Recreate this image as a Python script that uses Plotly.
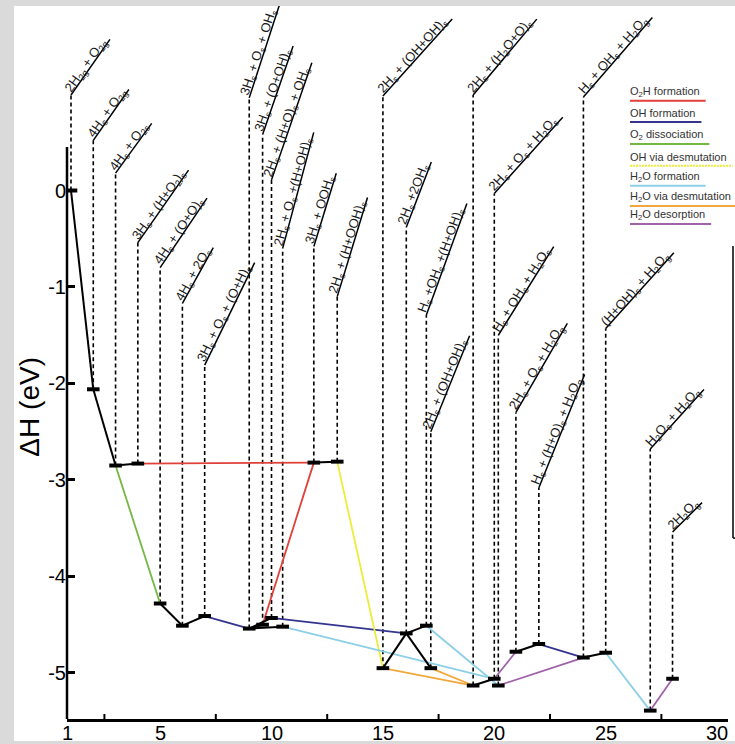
import math
import re
import plotly.graph_objects as go

# ---------------- data ----------------
states = [
    "2H<sub>2g</sub> + O<sub>2g</sub>",
    "4H<sub>s</sub> + O<sub>2g</sub>",
    "4H<sub>s</sub> + O<sub>2s</sub>",
    "3H<sub>s</sub> + (H+O<sub>2</sub>)<sub>s</sub>",
    "4H<sub>s</sub> + (O+O)<sub>s</sub>",
    "4H<sub>s</sub> + 2O<sub>s</sub>",
    "3H<sub>s</sub> + O<sub>s</sub> + (O+H)<sub>s</sub>",
    "3H<sub>s</sub> + O<sub>s</sub> + OH<sub>s</sub>",
    "3H<sub>s</sub> + (O+OH)<sub>s</sub>",
    "2H<sub>s</sub> + (H+O)<sub>s</sub> + OH<sub>s</sub>",
    "2H<sub>s</sub> + O<sub>s</sub> +(H+OH)<sub>s</sub>",
    "3H<sub>s</sub> + OOH<sub>s</sub>",
    "2H<sub>s</sub> + (H+OOH)<sub>s</sub>",
    "2H<sub>s</sub> + (OH+OH)<sub>s</sub>",
    "2H<sub>s</sub> +2OH<sub>s</sub>",
    "H<sub>s</sub> +OH<sub>s</sub> +(H+OH)<sub>s</sub>",
    "2H<sub>s</sub> + (OH+OH)<sub>s</sub>",
    "2H<sub>s</sub> + (H<sub>2</sub>O+O)<sub>s</sub>",
    "2H<sub>s</sub> + O<sub>s</sub> + H<sub>2</sub>O<sub>s</sub>",
    "H<sub>s</sub> + OH<sub>s</sub> + H<sub>2</sub>O<sub>s</sub>",
    "2H<sub>s</sub> + O<sub>s</sub> + H<sub>2</sub>O<sub>g</sub>",
    "H<sub>s</sub> + (H+O)<sub>s</sub> + H<sub>2</sub>O<sub>g</sub>",
    "H<sub>s</sub> + OH<sub>s</sub> + H<sub>2</sub>O<sub>g</sub>",
    "(H+OH)<sub>s</sub> + H<sub>2</sub>O<sub>g</sub>",
    "H<sub>2</sub>O<sub>s</sub> + H<sub>2</sub>O<sub>g</sub>",
    "2H<sub>2</sub>O<sub>g</sub>",
]
step = [1, 2, 3, 4, 5, 6, 7, 9.0, 9.6, 10.0, 10.5, 11.9, 12.95,
        15.0, 16.05, 16.95, 17.15, 19.05, 20.0, 20.18, 20.97, 22.0,
        24.0, 25.0, 27.0, 28.0]
dH = [0.0, -2.06, -2.85, -2.83, -4.28, -4.51, -4.41, -4.54, -4.50, -4.43,
      -4.52, -2.82, -2.81, -4.95, -4.59, -4.51, -4.95, -5.13, -5.06, -5.13,
      -4.78, -4.70, -4.84, -4.79, -5.39, -5.06]

# transitions (1-based state numbers) grouped by mechanism
mechanisms = ["O<sub>2</sub>H formation", "OH formation", "O<sub>2</sub> dissociation",
              "OH via desmutation", "H<sub>2</sub>O formation",
              "H<sub>2</sub>O via desmutation", "H<sub>2</sub>O desorption"]
steps_black = [(1, 2), (2, 3), (3, 4), (5, 6), (6, 7), (8, 9), (8, 10), (8, 11),
               (12, 13), (14, 15), (15, 16), (15, 17), (18, 19), (21, 22), (23, 24)]
steps_mech = {
    "O<sub>2</sub>H formation": [(4, 12), (12, 9)],
    "OH formation": [(7, 8), (10, 15), (22, 23)],
    "O<sub>2</sub> dissociation": [(3, 5)],
    "OH via desmutation": [(13, 14)],
    "H<sub>2</sub>O formation": [(11, 19), (16, 20), (24, 25)],
    "H<sub>2</sub>O via desmutation": [(14, 18), (17, 18)],
    "H<sub>2</sub>O desorption": [(19, 21), (20, 23), (25, 26)],
}

# label placement (height where each state's label starts, and its slant)
label_top = [0.99, 0.52, 0.18, -0.54, -0.80, -1.17, -1.81, 0.96, 0.58, 0.11,
             -0.60, -0.58, -1.10, 0.98, -0.38, -1.29, -2.50, 0.99, -0.03, -1.50,
             -2.30, -3.08, 0.97, -1.43, -2.68, -3.54]
label_angle = [55, 55, 54, 55, 56, 61, 64, 72, 71, 71, 75, 73, 73, 48, 69, 70,
               68, 50, 48, 58, 60, 68, 49, 48, 48, 45]

x_ticks = [1, 5, 10, 15, 20, 25, 30]
x_minor = [2.5, 7.5, 12.5, 17.5, 22.5, 27.5]
y_ticks = [0, -1, -2, -3, -4, -5]

# ---------------- style ----------------
colors = {
    "O<sub>2</sub>H formation": "#e0403a",
    "OH formation": "#35358f",
    "O<sub>2</sub> dissociation": "#74b843",
    "OH via desmutation": "#ecec3a",
    "H<sub>2</sub>O formation": "#8dcfe6",
    "H<sub>2</sub>O via desmutation": "#f1a83a",
    "H<sub>2</sub>O desorption": "#a062a9",
}
FONT = "Arial, Liberation Sans, sans-serif"
LBL_SIZE = 13

WID = {' ': .278, '(': .333, ')': .333, '+': .584, 'A': .667, 'H': .722, 'O': .778,
       'V': .667, 'a': .556, 'c': .5, 'd': .556, 'e': .556, 'f': .278, 'g': .556,
       'i': .222, 'l': .222, 'm': .833, 'n': .556, 'o': .556, 'p': .556, 'r': .333,
       's': .5, 't': .278, 'u': .556, 'v': .5}


def text_width(html, size):
    total = 0.0
    for part in re.split(r'(<sub>.*?</sub>)', html):
        if part.startswith('<sub>'):
            s, sz = part[5:-6], size * 0.7
        else:
            s, sz = part, size
        for ch in s:
            total += (0.556 if ch.isdigit() else WID.get(ch, 0.6)) * sz
    return total


XR = [0.8205, 30.49]
YR = [-5.477, 1.912]

fig = go.Figure()

# vertical dashed guide lines from each state up to its label
gx, gy = [], []
for xv, yv, tv in zip(step, dH, label_top):
    gx += [xv, xv, None]
    gy += [yv, tv, None]
fig.add_trace(go.Scatter(x=gx, y=gy, mode="lines", hoverinfo="skip",
                         line=dict(color="black", width=1.6, dash="4px,3px"),
                         showlegend=False))


def seg_trace(pairs, color, width):
    xs, ys = [], []
    for a, b in pairs:
        xs += [step[a - 1], step[b - 1], None]
        ys += [dH[a - 1], dH[b - 1], None]
    return go.Scatter(x=xs, y=ys, mode="lines", line=dict(color=color, width=width),
                      hoverinfo="skip", showlegend=False)


for m in mechanisms:
    fig.add_trace(seg_trace(steps_mech[m], colors[m], 1.8))
fig.add_trace(seg_trace(steps_black, "black", 2.0))

fig.add_trace(go.Scatter(x=step, y=dH, mode="markers", showlegend=False,
                         marker=dict(symbol="line-ew", size=9,
                                     line=dict(color="black", width=4))))

shapes = []
annotations = []

# panel background
shapes.append(dict(type="rect", xref="paper", yref="paper", x0=-0.0802, x1=1.03,
                   y0=-0.0309, y1=1.0, fillcolor="white", line=dict(width=0),
                   layer="below"))

# state labels with slanted underline
for xv, tv, txt, ang in zip(step, label_top, states, label_angle):
    w = text_width(txt, LBL_SIZE)
    L = w * 1.05 + 3
    a = math.radians(ang)
    ux, uy = math.cos(a), math.sin(a)
    shapes.append(dict(type="line", xref="x", yref="y", xsizemode="pixel",
                       ysizemode="pixel", xanchor=xv, yanchor=tv,
                       x0=0, y0=0, x1=L * ux, y1=L * uy,
                       line=dict(color="black", width=1.5)))
    t = w / 2 + 2
    d = 4.5
    annotations.append(dict(x=xv, y=tv, xref="x", yref="y", text=txt,
                            showarrow=False, textangle=-ang,
                            xanchor="center", yanchor="middle",
                            xshift=t * ux - d * uy, yshift=t * uy + d * ux,
                            font=dict(family=FONT, size=LBL_SIZE, color="#1a1a1a")))

# y-axis line (only up to the top of the energy scale)
shapes.append(dict(type="line", xref="paper", yref="y", x0=0, x1=0,
                   y0=YR[0], y1=0.45, line=dict(color="black", width=2.5)))

# small upward ticks between the labelled ones
for xv in x_minor:
    shapes.append(dict(type="line", xref="x", yref="paper", x0=xv, x1=xv,
                       y0=0, y1=5 / 713, line=dict(color="black", width=2)))

# x tick labels
for i, xv in enumerate(x_ticks):
    annotations.append(dict(x=xv, y=0, xref="x", yref="paper", text=str(xv),
                            showarrow=False, xanchor="center", yanchor="top",
                            yshift=-1, xshift=-4 if i == 0 else 0,
                            font=dict(family=FONT, size=20, color="black")))

# legend drawn by hand
PX0, PW, PY0, PH = 67, 661, 719, 713
leg_text_y = [91.7, 113, 135, 156.7, 176.7, 197, 215]
for i, m in enumerate(mechanisms):
    ty = leg_text_y[i]
    annotations.append(dict(x=(628 - PX0) / PW, y=(PY0 - ty) / PH, xref="paper",
                            yref="paper", text=m, showarrow=False, xanchor="left",
                            yanchor="middle",
                            font=dict(family=FONT, size=11, color="#333333")))
    w = text_width(m, 11)
    shapes.append(dict(type="line", xref="paper", yref="paper",
                       x0=(630 - PX0) / PW, x1=(630 + w + 6 - PX0) / PW,
                       y0=(PY0 - ty - 9) / PH, y1=(PY0 - ty - 9) / PH,
                       line=dict(color=colors[m], width=2,
                                 dash="2px,1px" if m == "OH via desmutation" else "solid")))

# partial frame at the right edge
shapes.append(dict(type="line", xref="paper", yref="paper",
                   x0=(733 - PX0) / PW, x1=(733 - PX0) / PW,
                   y0=(PY0 - 246) / PH, y1=(PY0 - 538) / PH,
                   line=dict(color="black", width=1.5)))
shapes.append(dict(type="line", xref="paper", yref="paper",
                   x0=(733 - PX0) / PW, x1=(740 - PX0) / PW,
                   y0=(PY0 - 538) / PH, y1=(PY0 - 538) / PH,
                   line=dict(color="black", width=1.5)))

# y-axis title
annotations.append(dict(x=(30 - PX0) / PW, y=-2.24, xref="paper", yref="y",
                        text="ΔH (eV)", showarrow=False, textangle=-90,
                        xanchor="center", yanchor="middle",
                        font=dict(family=FONT, size=28, color="black")))

fig.update_layout(
    width=735, height=744,
    margin=dict(l=PX0, r=735 - 728, t=6, b=25, pad=0),
    paper_bgcolor="#dadada", plot_bgcolor="rgba(0,0,0,0)",
    showlegend=False,
    shapes=shapes, annotations=annotations,
    xaxis=dict(range=XR, tickvals=x_ticks, showticklabels=False,
               showgrid=False, zeroline=False, showline=True, linecolor="black",
               linewidth=2.5, ticks="", automargin=False),
    yaxis=dict(range=YR, tickvals=y_ticks, ticktext=[str(v) for v in y_ticks],
               showgrid=False, zeroline=False, showline=False, ticks="inside",
               ticklen=8, tickwidth=2.5, tickcolor="black", automargin=False,
               tickfont=dict(family=FONT, size=20, color="black")),
)

fig.write_html("out.html", config={"displayModeBar": False},
               post_script="document.body.style.margin='0';document.body.style.overflow='hidden';")
